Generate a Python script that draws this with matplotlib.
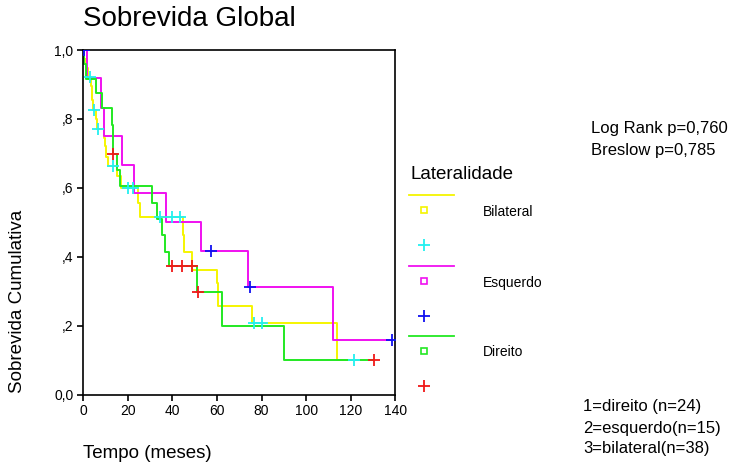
import numpy as np
import matplotlib
matplotlib.use("Agg")
import matplotlib.pyplot as plt
from matplotlib.lines import Line2D

plt.rcParams['font.family'] = ['Liberation Sans', 'DejaVu Sans']

# Bilateral (n=38): event times (months) and survival after each event
bil_t = [0.5, 1.0, 1.9, 3.4, 3.9, 4.5, 5.8, 6.1, 9.3, 9.7, 10.4, 10.9, 15.0, 16.7,
         24.7, 25.4, 44.6, 45.2, 48.6, 59.8, 60.5, 75.8, 114.0]
bil_s = [0.974, 0.947, 0.921, 0.895, 0.855, 0.826, 0.80, 0.77, 0.745, 0.72, 0.69, 0.664,
         0.633, 0.60, 0.556, 0.515, 0.464, 0.415, 0.361, 0.324, 0.258, 0.208, 0.101]
bil_cens = [3.2, 4.9, 6.7, 13.5, 20.2, 22.4, 34.4, 39.7, 43.4, 76.6, 80.0, 121.4]

# Esquerdo (n=15)
esq_t = [1.5, 7.9, 9.4, 17.2, 22.9, 37.0, 52.8, 74.0, 112.2]
esq_s = [0.918, 0.831, 0.749, 0.667, 0.585, 0.50, 0.417, 0.311, 0.157]
esq_cens = [0.1, 57.3, 74.8, 138.4]

# Direito (n=24)
dir_t = [0.1, 1.3, 5.7, 8.2, 12.9, 13.4, 15.3, 16.4, 30.7, 33.2, 35.2, 36.7, 38.4,
         50.8, 62.4, 90.0]
dir_s = [0.958, 0.917, 0.875, 0.833, 0.783, 0.698, 0.652, 0.604, 0.556, 0.509, 0.464,
         0.415, 0.372, 0.297, 0.198, 0.099]
dir_cens = [13.5, 39.6, 44.1, 48.8, 51.6, 130.4]

groups = [
    ("Bilateral", bil_t, bil_s, bil_cens, "#f5f500", "#22f0f0"),
    ("Esquerdo", esq_t, esq_s, esq_cens, "#f010f0", "#1010f0"),
    ("Direito", dir_t, dir_s, dir_cens, "#22e822", "#f01818"),
]

W, H = 740, 466
fig = plt.figure(figsize=(W / 100, H / 100), dpi=100)
ax = fig.add_axes([83.3 / W, 1 - 394.5 / H, 312 / W, 344.5 / H])


def px(x, y):
    return x / W, 1 - y / H


for name, t, s, cens, lc, mc in groups:
    t = np.asarray(t)
    s = np.asarray(s)
    t_end = max(max(cens), t[-1])
    tt = np.concatenate([[0.0], t, [t_end]])
    ss = np.concatenate([[1.0], s, [s[-1]]])
    ax.step(tt, ss, where='post', color=lc, lw=1.4, zorder=2)
    # censored cases sit on the curve value at their time
    idx = np.searchsorted(tt, cens, side='right') - 1
    ax.plot(cens, ss[idx], ls='none', marker='+', ms=8, mew=1.3, color=mc, zorder=3)

ax.set_xlim(0, 140)
ax.set_ylim(0, 1.0)
ax.set_xticks(np.arange(0, 141, 20))
ax.set_yticks([0, 0.2, 0.4, 0.6, 0.8, 1.0])
ax.set_yticklabels(["0,0", ",2", ",4", ",6", ",8", "1,0"])
ax.tick_params(direction='out', length=4, width=1.2, labelsize=10, pad=3)
for sp in ax.spines.values():
    sp.set_linewidth(1.2)

fig.text(*px(83, 19), "Sobrevida Global", fontsize=20, ha='left', va='center')
fig.text(*px(18, 301), "Sobrevida Cumulativa", fontsize=13.5, rotation=90,
         ha='center', va='center')
fig.text(*px(83, 453), "Tempo (meses)", fontsize=13.5, ha='left', va='center')

# legend block
fig.text(*px(411, 175), "Lateralidade", fontsize=13.5, ha='left', va='center')
leg_y = [195, 265.5, 335.5]
for (name, t, s, cens, lc, mc), y0 in zip(groups, leg_y):
    fig.add_artist(Line2D([409 / W, 454 / W], [1 - y0 / H] * 2, color=lc, lw=1.3))
    fig.add_artist(Line2D([423.5 / W], [1 - (y0 + 15) / H], marker='s', ms=5,
                          mfc='none', mec=lc, mew=1.2, ls='none'))
    fig.text(*px(483, y0 + 17), name, fontsize=10, ha='left', va='center')
    fig.add_artist(Line2D([423.5 / W], [1 - (y0 + 50) / H], marker='+', ms=8,
                          mew=1.3, color=mc, ls='none'))

fig.text(*px(591, 129), "Log Rank p=0,760", fontsize=12, ha='left', va='center')
fig.text(*px(591, 150), "Breslow p=0,785", fontsize=12, ha='left', va='center')

fig.text(*px(583, 407), "1=direito (n=24)", fontsize=12, ha='left', va='center')
fig.text(*px(583, 428), "2=esquerdo(n=15)", fontsize=12, ha='left', va='center')
fig.text(*px(583, 449), "3=bilateral(n=38)", fontsize=12, ha='left', va='center')

fig.savefig("out.png", dpi=100)
